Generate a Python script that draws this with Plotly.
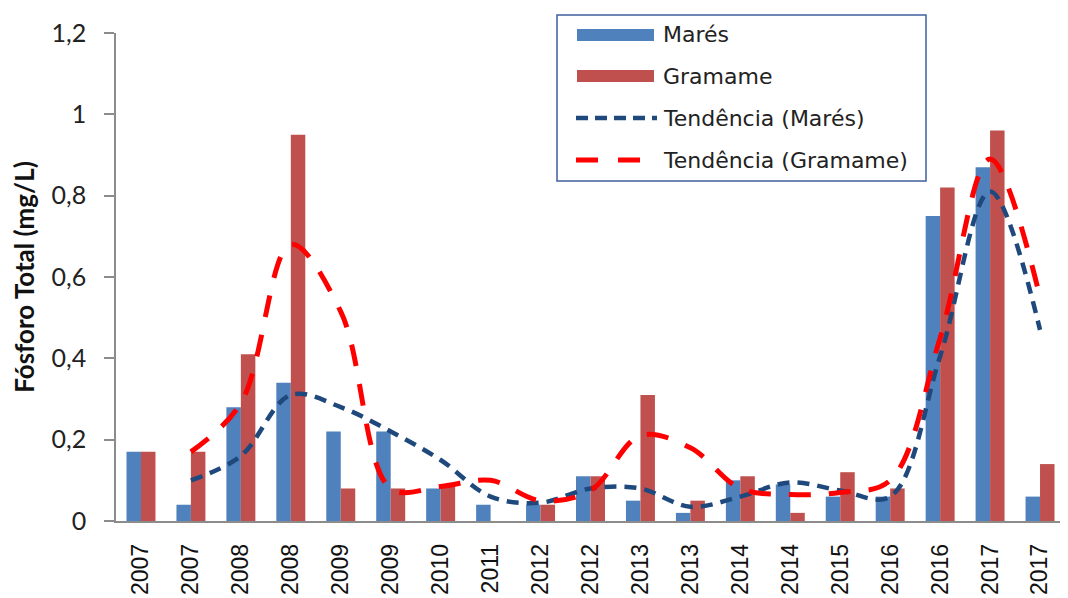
import plotly.graph_objects as go

# ---- data ----
categories = ["2007", "2007", "2008", "2008", "2009", "2009", "2010", "2011", "2012", "2012",
              "2013", "2013", "2014", "2014", "2015", "2016", "2016", "2017", "2017"]
mares = [0.17, 0.04, 0.28, 0.34, 0.22, 0.22, 0.08, 0.04, 0.04, 0.11,
         0.05, 0.02, 0.10, 0.09, 0.06, 0.06, 0.75, 0.87, 0.06]
gramame = [0.17, 0.17, 0.41, 0.95, 0.08, 0.08, 0.09, None, 0.04, 0.11,
           0.31, 0.05, 0.11, 0.02, 0.12, 0.08, 0.82, 0.96, 0.14]
trend_mares = [None, 0.10, 0.16, 0.31, 0.28, 0.22, 0.15, 0.06, 0.045, 0.08,
               0.08, 0.035, 0.06, 0.095, 0.075, 0.06, 0.405, 0.81, 0.47]
trend_gramame = [None, 0.17, 0.29, 0.68, 0.515, 0.08, 0.085, 0.10, 0.05, 0.075,
                 0.21, 0.18, 0.08, 0.065, 0.07, 0.10, 0.45, 0.89, 0.55]
y_ticks = [0, 0.2, 0.4, 0.6, 0.8, 1.0, 1.2]
y_ticktext = ["0", "0,2", "0,4", "0,6", "0,8", "1", "1,2"]
legend_labels = ["Marés", "Gramame", "Tendência (Marés)", "Tendência (Gramame)"]

BLUE = "#4F81BD"
RED = "#C0504D"
NAVY = "#1F497D"
BRIGHT_RED = "#FF0000"

x = list(range(len(categories)))

fig = go.Figure()
fig.add_trace(go.Bar(x=x, y=mares, name=legend_labels[0], marker_color=BLUE,
                     marker_line_width=0, showlegend=False))
fig.add_trace(go.Bar(x=x, y=gramame, name=legend_labels[1], marker_color=RED,
                     marker_line_width=0, showlegend=False))
fig.add_trace(go.Scatter(x=x, y=trend_mares, name=legend_labels[2], mode="lines",
                         line=dict(color=NAVY, width=4.5, dash="12px,8px", shape="spline", smoothing=1),
                         showlegend=False))
fig.add_trace(go.Scatter(x=x, y=trend_gramame, name=legend_labels[3], mode="lines",
                         line=dict(color=BRIGHT_RED, width=5, dash="22px,18px", shape="spline", smoothing=1),
                         showlegend=False))

# page body has an 8px margin: figure coords = screen coords - 8
OFF = 8
W, H = 1068, 598
L, R, T, B = 116 - OFF, 11, 33 - OFF, 85
pw, ph = W - L - R, H - T - B


def px(X):
    return (X - OFF - L) / pw


def py(Y):
    return (H - B - (Y - OFF)) / ph


# ---- custom legend (screen pixel positions) ----
shapes = []
annotations = []
shapes.append(dict(type="rect", xref="paper", yref="paper",
                   x0=px(557), x1=px(926), y0=py(181), y1=py(15),
                   line=dict(color="#3F5F9F", width=1.5), fillcolor="white", layer="above"))
rows = [35, 76, 118, 160]
shapes.append(dict(type="rect", xref="paper", yref="paper", x0=px(577), x1=px(654),
                   y0=py(rows[0] + 6), y1=py(rows[0] - 6), fillcolor=BLUE, line_width=0, layer="above"))
shapes.append(dict(type="rect", xref="paper", yref="paper", x0=px(577), x1=px(654),
                   y0=py(rows[1] + 6), y1=py(rows[1] - 6), fillcolor=RED, line_width=0, layer="above"))
shapes.append(dict(type="line", xref="paper", yref="paper", x0=px(576), x1=px(657),
                   y0=py(rows[2]), y1=py(rows[2]), line=dict(color=NAVY, width=4.5, dash="12px,7px"),
                   layer="above"))
shapes.append(dict(type="line", xref="paper", yref="paper", x0=px(576), x1=px(640),
                   y0=py(rows[3]), y1=py(rows[3]), line=dict(color=BRIGHT_RED, width=5, dash="22px,20px"),
                   layer="above"))
for lbl, r in zip(legend_labels, rows):
    annotations.append(dict(xref="paper", yref="paper", x=px(661), y=py(r), text=lbl,
                            showarrow=False, xanchor="left", yanchor="middle",
                            font=dict(family="DejaVu Sans, Liberation Sans", size=22, color="#222222")))

fig.update_layout(
    width=W, height=H,
    margin=dict(l=L, r=R, t=T, b=B, autoexpand=False),
    plot_bgcolor="white", paper_bgcolor="white",
    barmode="group", bargap=0.42, bargroupgap=0,
    showlegend=False,
    shapes=shapes, annotations=annotations,
    xaxis=dict(range=[-0.5, len(categories) - 0.5], tickmode="array", tickvals=x,
               ticktext=categories, tickangle=-90, showgrid=False, zeroline=False,
               showline=True, linecolor="#8C8C8C", linewidth=1.5, ticks="",
               ticklabelstandoff=12, automargin=False,
               tickfont=dict(family="Liberation Sans, Arial", size=23, color="#111111")),
    yaxis=dict(range=[0, 1.2], tickmode="array", tickvals=y_ticks, ticktext=y_ticktext,
               showgrid=False, zeroline=False, showline=True, linecolor="#8C8C8C", linewidth=1.5,
               ticks="outside", ticklen=10, tickcolor="#8C8C8C", tickwidth=1.5,
               ticklabelstandoff=13, automargin=False,
               tickfont=dict(family="Lato, Liberation Sans", size=25, color="#222222"),
               title=dict(text="<b>Fósforo Total (mg/L)</b>", standoff=10,
                          font=dict(family="Lato, Liberation Sans", size=26, color="#111111"))),
)

fig.write_html("out.html")
